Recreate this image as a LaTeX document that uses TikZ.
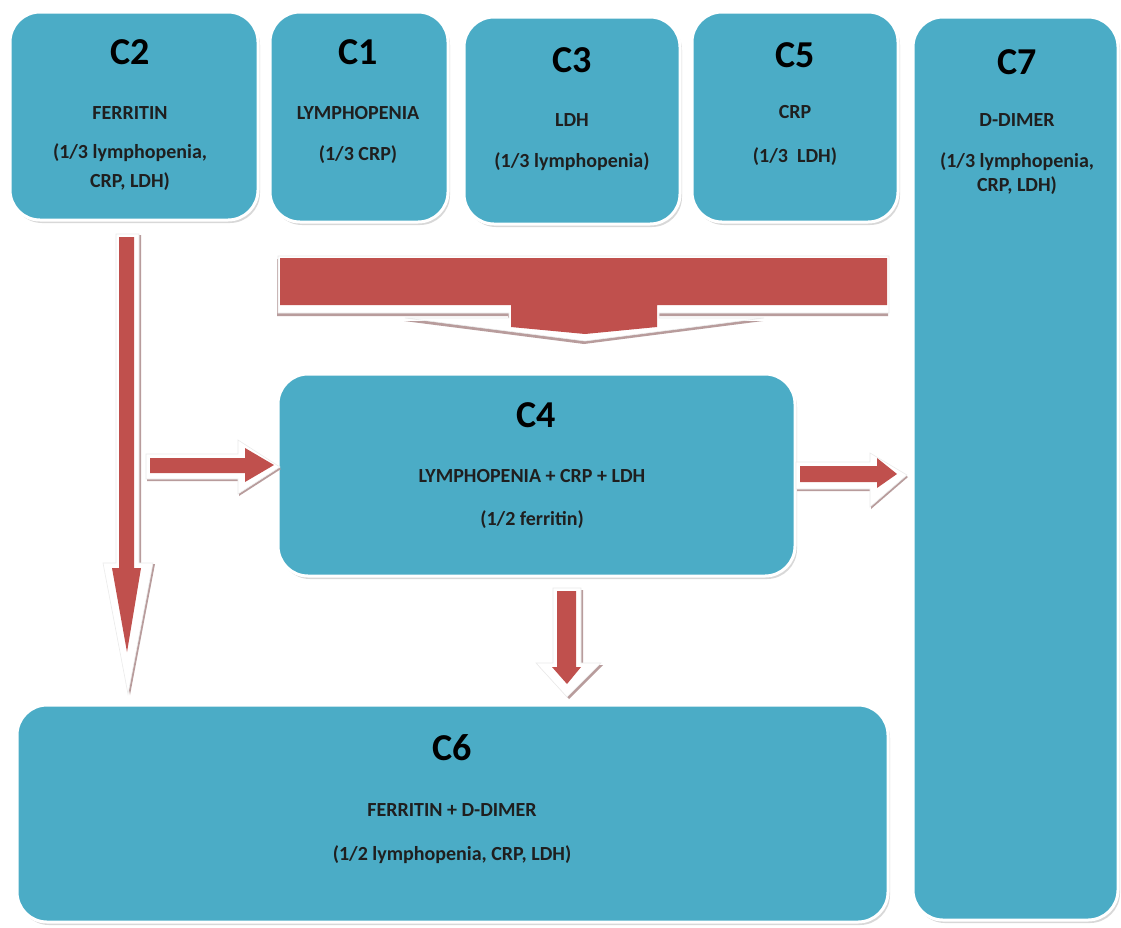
\documentclass[tikz,border=0pt]{standalone}
\usepackage{fontspec}
\setmainfont{Carlito}
\usetikzlibrary{shadows}
\definecolor{boxblue}{HTML}{4BACC6}
\definecolor{arrowred}{HTML}{C0504D}
\definecolor{bevelgray}{HTML}{B89C9C}
\tikzset{
  box/.style={draw=white, line width=3pt, fill=boxblue, rounded corners=30pt, inner sep=0pt,
    drop shadow={opacity=0.3, shadow xshift=2pt, shadow yshift=-3pt}},
  ttl/.style={font=\fontsize{38}{40}\selectfont\bfseries, text=black, inner sep=0pt},
  bodytext/.style={font=\fontsize{20}{22}\selectfont\bfseries, text=black!88, inner sep=0pt},
  bevel/.style={fill=white, draw=black!8, line width=0.6pt},
}
% #1,#2 grey edge shift; #3 outer (bevel) path; #4 inner red path
\newcommand\bevarrow[4]{%
  \fill[bevelgray, shift={(#1,#2)}] #3;
  \filldraw[bevel] #3;
  \fill[arrowred] #4;
}
\begin{document}
\begin{tikzpicture}[x=1pt, y=-1pt]
\useasboundingbox (0,0) rectangle (1121,927);
\fill[white] (0,0) rectangle (1121,927);

% boxes
\node[box, minimum width=248pt, minimum height=208pt] (c2) at (134,116) {};
\node[box, minimum width=178pt, minimum height=210pt] (c1) at (359,117) {};
\node[box, minimum width=216pt, minimum height=207pt] (c3) at (572,120.5) {};
\node[box, minimum width=206pt, minimum height=210pt] (c5) at (795,117) {};
\node[box, minimum width=205pt, minimum height=903pt] (c7) at (1015.5,468.5) {};
\node[box, minimum width=517pt, minimum height=202pt] (c4) at (536.5,475) {};
\node[box, minimum width=871pt, minimum height=217pt] (c6) at (452.5,813.5) {};

% texts
\node[ttl] (c2t) at (130,52) {C2};
\node[bodytext] (c2a) at (130,113) {FERRITIN};
\node[bodytext] (c2b) at (130,153) {(1/3 lymphopenia,};
\node[bodytext] (c2c) at (130,182) {CRP, LDH)};

\node[ttl] (c1t) at (358,52) {C1};
\node[bodytext] (c1a) at (358,113) {LYMPHOPENIA};
\node[bodytext] (c1b) at (358,155) {(1/3 CRP)};

\node[ttl] (c3t) at (572,60) {C3};
\node[bodytext] (c3a) at (572,120) {LDH};
\node[bodytext] (c3b) at (572,162) {(1/3 lymphopenia)};

\node[ttl] (c5t) at (795,55) {C5};
\node[bodytext] (c5a) at (795,112) {CRP};
\node[bodytext] (c5b) at (795,157) {(1/3\ \ LDH)};

\node[ttl] (c7t) at (1017,62) {C7};
\node[bodytext] (c7a) at (1017,120) {D-DIMER};
\node[bodytext] (c7b) at (1017,162) {(1/3 lymphopenia,};
\node[bodytext] (c7c) at (1017,186) {CRP, LDH)};

\node[ttl] (c4t) at (536,415) {C4};
\node[bodytext] (c4a) at (532,476) {LYMPHOPENIA + CRP + LDH};
\node[bodytext] (c4b) at (532,520) {(1/2 ferritin)};

\node[ttl] (c6t) at (452,748) {C6};
\node[bodytext] (c6a) at (452,810) {FERRITIN + D-DIMER};
\node[bodytext] (c6b) at (452,855) {(1/2 lymphopenia, CRP, LDH)};

% big merging arrow (C1, C3, C5 -> C4)
\bevarrow{-1}{3}
  {(278,256) -- (889,256) -- (889,313) -- (659,313) -- (659,318) -- (764,318) -- (585,341) -- (405,318) -- (509,318) -- (509,313) -- (278,313) -- cycle}
  {(280,258) -- (887,258) -- (887,305) -- (657,305) -- (657,327) -- (585,334) -- (511,327) -- (511,305) -- (280,305) -- cycle}

% C2 -> C6 (long vertical)
\bevarrow{2}{1}
  {(116,234) -- (139,234) -- (139,563) -- (153,563) -- (128,694) -- (103,563) -- (116,563) -- cycle}
  {(119,237) -- (134,237) -- (134,568) -- (141,568) -- (127,652) -- (112,568) -- (119,568) -- cycle}

% C2 -> C4
\bevarrow{1}{2}
  {(146,454) -- (238,454) -- (238,440) -- (280,467) -- (238,494) -- (238,479) -- (146,479) -- cycle}
  {(150,458) -- (245,458) -- (245,448) -- (274,465) -- (245,482) -- (245,473) -- (150,473) -- cycle}

% C4 -> C7
\bevarrow{1}{2}
  {(796,462) -- (870,462) -- (870,453) -- (907,475) -- (870,507) -- (870,489) -- (796,489) -- cycle}
  {(800,466) -- (877,466) -- (877,458) -- (897,474) -- (877,488) -- (877,482) -- (800,482) -- cycle}

% C4 -> C6
\bevarrow{2}{2}
  {(553,588) -- (581,588) -- (581,663) -- (601,663) -- (567,697) -- (536,663) -- (553,663) -- cycle}
  {(557,591) -- (576,591) -- (576,667) -- (581,667) -- (567,684) -- (552,667) -- (557,667) -- cycle}
\end{tikzpicture}
\end{document}
